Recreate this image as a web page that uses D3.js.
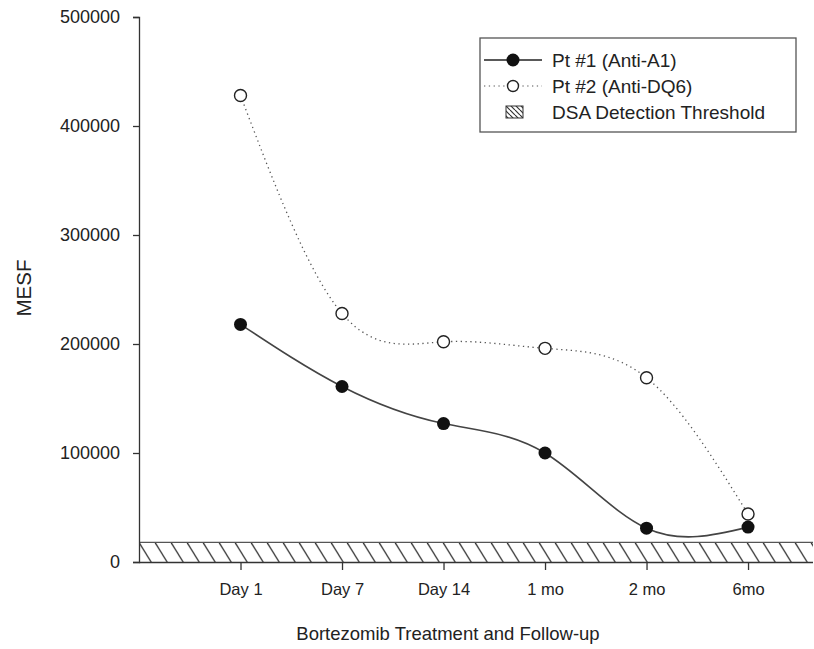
<!DOCTYPE html>
<html>
<head>
<meta charset="utf-8">
<script src="https://cdn.jsdelivr.net/npm/d3@7/dist/d3.min.js"></script>
<style>
  html, body { margin: 0; padding: 0; background: #fff; }
  svg { display: block; }
  text { font-family: "Liberation Sans", Arial, sans-serif; fill: #222; }
</style>
</head>
<body>
<svg id="chart" width="814" height="649"></svg>
<script>
const categories = ["Day 1", "Day 7", "Day 14", "1 mo", "2 mo", "6mo"];
const pt1Values = [218000, 161000, 127000, 100000, 31000, 32000];
const pt2Values = [428000, 228000, 202000, 196000, 169000, 44000];
const yTicks = [0, 100000, 200000, 300000, 400000, 500000];
const thresholdValue = 18000;
const legendLabels = ["Pt #1 (Anti-A1)", "Pt #2 (Anti-DQ6)", "DSA Detection Threshold"];
const xTitle = "Bortezomib Treatment and Follow-up";
const yTitle = "MESF";

(function () {
const svg = d3.select("#chart");
const mLeft = 139, mRight = 813, mTop = 17, mBottom = 562;

const x = d3.scaleLinear().domain([0, 6.64]).range([mLeft, mRight]);
const y = d3.scaleLinear().domain([0, 500000]).range([mBottom, mTop]);

// hatch pattern
const defs = svg.append("defs");
const pat = defs.append("pattern")
  .attr("id", "hatch").attr("patternUnits", "userSpaceOnUse")
  .attr("width", 16).attr("height", 21)
  .attr("x", mLeft).attr("y", y(thresholdValue));
[-16, 0, 16].forEach(o => {
  pat.append("line").attr("x1", o).attr("y1", 0).attr("x2", o + 13).attr("y2", 21)
    .attr("stroke", "#333").attr("stroke-width", 1.3);
});

const legPat = defs.append("pattern")
  .attr("id", "hatchSmall").attr("patternUnits", "userSpaceOnUse")
  .attr("width", 5).attr("height", 5);
[-5, 0, 5].forEach(o => {
  legPat.append("line").attr("x1", o).attr("y1", 0).attr("x2", o + 5).attr("y2", 5)
    .attr("stroke", "#333").attr("stroke-width", 1.2);
});

// threshold band
svg.append("rect")
  .attr("x", mLeft).attr("y", y(thresholdValue))
  .attr("width", mRight - mLeft).attr("height", y(0) - y(thresholdValue))
  .attr("fill", "url(#hatch)");
svg.append("line")
  .attr("x1", mLeft).attr("x2", mRight)
  .attr("y1", y(thresholdValue)).attr("y2", y(thresholdValue))
  .attr("stroke", "#555").attr("stroke-width", 1.3);

// y axis
const yAxis = d3.axisLeft(y).tickValues(yTicks).tickSize(6).tickPadding(13)
  .tickFormat(d3.format("d"));
const gy = svg.append("g").attr("transform", `translate(${mLeft},0)`).call(yAxis);
gy.select(".domain").attr("stroke", "#333").attr("stroke-width", 1.3);
gy.selectAll(".tick line").attr("stroke", "#333").attr("stroke-width", 1.3);
gy.selectAll(".tick text").style("font-size", "18px").attr("fill", "#222");

// x axis
const xAxis = d3.axisBottom(x).tickValues(d3.range(1, categories.length + 1))
  .tickSize(8).tickPadding(13).tickFormat((d, i) => categories[i]);
const gx = svg.append("g").attr("transform", `translate(0,${mBottom})`).call(xAxis);
gx.select(".domain").attr("d", `M${mLeft},0.5H${mRight}`).attr("stroke", "#333").attr("stroke-width", 1.3);
gx.selectAll(".tick line").attr("stroke", "#333").attr("stroke-width", 1.3);
gx.selectAll(".tick text").style("font-size", "16.5px").attr("fill", "#222");

// titles
svg.append("text").attr("x", 448).attr("y", 640).attr("text-anchor", "middle")
  .style("font-size", "18.5px").text(xTitle);
svg.append("text").attr("transform", "translate(31,288) rotate(-90)")
  .attr("text-anchor", "middle").style("font-size", "20.5px").text(yTitle);

// lines
const pts1 = pt1Values.map((v, i) => [x(i + 1), y(v)]);
const pts2 = pt2Values.map((v, i) => [x(i + 1), y(v)]);
const line = d3.line().curve(d3.curveNatural);

svg.append("path").attr("d", line(pts2)).attr("fill", "none")
  .attr("stroke", "#555").attr("stroke-width", 1.3).attr("stroke-dasharray", "1.3,3.5");
svg.append("path").attr("d", line(pts1)).attr("fill", "none")
  .attr("stroke", "#444").attr("stroke-width", 1.6);

svg.selectAll("circle.p2").data(pts2).enter().append("circle").attr("class", "p2")
  .attr("cx", d => d[0]).attr("cy", d => d[1]).attr("r", 6)
  .attr("fill", "#fff").attr("stroke", "#222").attr("stroke-width", 1.4);
svg.selectAll("circle.p1").data(pts1).enter().append("circle").attr("class", "p1")
  .attr("cx", d => d[0]).attr("cy", d => d[1]).attr("r", 6.5)
  .attr("fill", "#111");

// legend
const lg = svg.append("g");
lg.append("rect").attr("x", 480).attr("y", 38).attr("width", 316).attr("height", 94)
  .attr("fill", "#fff").attr("stroke", "#555").attr("stroke-width", 1.3);
const rows = [60, 86, 112];
lg.append("line").attr("x1", 484).attr("x2", 542).attr("y1", rows[0]).attr("y2", rows[0])
  .attr("stroke", "#222").attr("stroke-width", 1.6);
lg.append("circle").attr("cx", 513).attr("cy", rows[0]).attr("r", 6.5).attr("fill", "#111");
lg.append("line").attr("x1", 484).attr("x2", 542).attr("y1", rows[1]).attr("y2", rows[1])
  .attr("stroke", "#555").attr("stroke-width", 1.2).attr("stroke-dasharray", "1.3,3.5");
lg.append("circle").attr("cx", 513).attr("cy", rows[1]).attr("r", 5.5)
  .attr("fill", "#fff").attr("stroke", "#222").attr("stroke-width", 1.4);
lg.append("rect").attr("x", 506).attr("y", rows[2] - 6).attr("width", 17).attr("height", 12)
  .attr("fill", "url(#hatchSmall)").attr("stroke", "#333").attr("stroke-width", 1);
legendLabels.forEach((t, i) => {
  lg.append("text").attr("x", 552).attr("y", rows[i]).attr("dy", "0.35em")
    .style("font-size", "19px").text(t);
});
})();
</script>
</body>
</html>
